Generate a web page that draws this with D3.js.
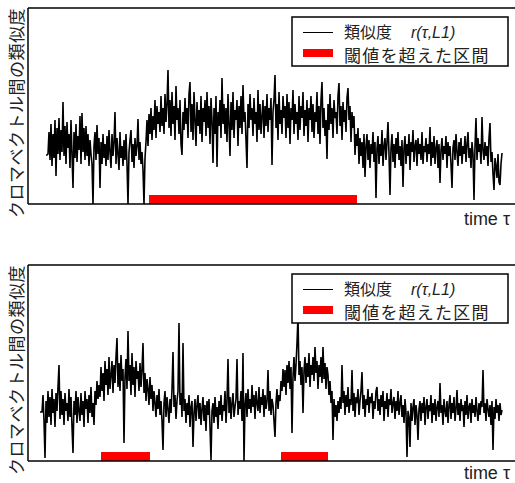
<!DOCTYPE html>
<html>
<head>
<meta charset="utf-8">
<script src="https://cdn.jsdelivr.net/npm/d3@7"></script>
<style>
  html, body { margin: 0; padding: 0; background: #fff; }
  svg { display: block; }
</style>
</head>
<body>
<div id="chart"></div>
<script>
// Similarity r(tau, L1) for each time step (height above the axis)
const topSimilarity = [
  49, 49, 50, 72, 44, 80, 38, 70, 46, 84, 28, 76, 50, 86, 44, 74, 52, 102, 48, 78,
  40, 82, 56, 70, 36, 84, 50, 16, 72, 46, 80, 42, 68, 54, 88, 40, 91, 52, 76, 44,
  78, 48, 70, 38, 64, 50, 40, 0, 58, 72, 44, 79, 50, 66, 16, 62, 40, 70, 46, 60,
  38, 68, 44, 74, 52, 36, 70, 48, 62, 92, 40, 66, 50, 34, 72, 46, 58, 38, 64, 44,
  70, 40, 0, 52, 64, 74, 42, 60, 36, 66, 48, 58, 85, 44, 62, 40, 52, 34, 0, 46,
  62, 84, 58, 90, 70, 96, 64, 88, 74, 104, 66, 98, 80, 92, 72, 108, 78, 96, 70, 110,
  82, 100, 134, 76, 104, 68, 112, 80, 98, 64, 118, 84, 96, 70, 104, 60, 49, 92, 74, 106,
  80, 96, 66, 110, 122, 72, 100, 64, 112, 84, 58, 102, 78, 94, 70, 108, 62, 96, 82, 104,
  68, 112, 76, 98, 60, 106, 84, 41, 96, 70, 108, 37, 92, 78, 104, 66, 126, 80, 100, 70,
  96, 62, 110, 80, 48, 102, 74, 112, 66, 94, 84, 104, 58, 98, 76, 108, 70, 119, 82, 92,
  64, 36, 100, 76, 110, 84, 96, 68, 106, 80, 92, 62, 114, 74, 100, 70, 88, 104, 66, 98,
  78, 110, 72, 96, 84, 106, 39, 92, 104, 129, 76, 100, 64, 112, 80, 94, 70, 108, 86, 98,
  66, 110, 76, 102, 60, 96, 84, 114, 70, 100, 80, 92, 64, 108, 74, 98, 86, 112, 68, 94,
  78, 104, 62, 96, 84, 108, 72, 100, 66, 92, 82, 112, 70, 98, 60, 104, 122, 76, 96, 68,
  84, 45, 100, 74, 110, 80, 96, 66, 104, 86, 92, 70, 108, 121, 78, 98, 64, 102, 82, 94,
  72, 106, 116, 84, 98, 62, 92, 76, 88, 49, 70, 58, 76, 40, 66, 48, 62, 36, 70, 27,
  58, 70, 44, 64, 36, 60, 50, 72, 42, 62, 6, 56, 68, 40, 60, 48, 74, 38, 58, 66,
  44, 62, 82, 50, 9, 56, 70, 42, 60, 36, 66, 50, 72, 44, 58, 38, 64, 17, 56, 68,
  40, 60, 48, 70, 34, 62, 52, 74, 42, 58, 64, 38, 66, 50, 60, 44, 72, 40, 58, 52,
  66, 42, 60, 50, 77, 38, 62, 46, 68, 40, 56, 64, 36, 60, 21, 54, 66, 44, 58, 50,
  68, 36, 62, 48, 58, 40, 16, 56, 64, 44, 70, 52, 38, 62, 48, 66, 40, 58, 50, 68,
  42, 60, 72, 46, 56, 36, 62, 50, 4, 58, 86, 44, 66, 52, 60, 40, 87, 54, 44, 62,
  48, 58, 38, 66, 81, 42, 52, 30, 14, 46, 38, 26, 50, 22, 19, 40, 51
];

const bottomSimilarity = [
  49, 49, 49, 66, 40, 3, 60, 38, 70, 44, 64, 36, 72, 48, 62, 34, 68, 50, 74, 96,
  42, 70, 46, 62, 36, 68, 50, 58, 40, 72, 44, 64, 34, 8, 60, 46, 70, 38, 64, 50,
  40, 68, 46, 60, 34, 70, 52, 62, 38, 66, 48, 74, 44, 58, 36, 70, 56, 80, 62, 76,
  64, 94, 70, 88, 60, 100, 76, 92, 66, 104, 72, 86, 100, 68, 96, 78, 104, 123, 74, 98,
  70, 106, 80, 92, 18, 84, 102, 72, 130, 80, 96, 66, 108, 76, 94, 64, 100, 82, 90, 70,
  98, 74, 92, 118, 68, 88, 60, 82, 72, 56, 84, 62, 76, 50, 70, 58, 44, 66, 52, 72,
  46, 60, 40, 11, 58, 70, 44, 64, 52, 38, 62, 48, 72, 109, 54, 66, 42, 60, 70, 138,
  56, 68, 44, 118, 50, 62, 38, 58, 46, 66, 34, 54, 60, 14, 48, 62, 40, 56, 66, 42,
  58, 36, 52, 64, 40, 56, 30, 60, 46, 62, 34, 1, 50, 58, 38, 64, 44, 54, 32, 60,
  46, 66, 40, 56, 50, 70, 38, 60, 102, 48, 64, 42, 58, 68, 44, 54, 62, 102, 46, 60,
  52, 70, 40, 108, 0, 56, 68, 44, 72, 52, 62, 48, 76, 54, 66, 42, 70, 58, 50, 74,
  48, 64, 56, 72, 44, 66, 52, 60, 91, 50, 70, 46, 62, 56, 40, 24, 58, 72, 52, 66,
  60, 80, 70, 92, 74, 91, 66, 96, 78, 100, 72, 94, 28, 84, 104, 80, 96, 118, 145, 86,
  100, 76, 94, 48, 90, 104, 78, 98, 84, 108, 74, 96, 86, 104, 80, 114, 88, 100, 72, 96,
  84, 104, 78, 114, 82, 98, 72, 94, 86, 66, 80, 58, 70, 21, 62, 44, 56, 40, 60, 48,
  64, 52, 96, 58, 70, 46, 66, 54, 74, 48, 62, 56, 91, 50, 68, 44, 64, 58, 72, 46,
  60, 70, 89, 52, 66, 44, 62, 56, 72, 48, 64, 58, 68, 42, 60, 52, 70, 74, 50, 62,
  46, 66, 54, 70, 40, 60, 52, 68, 44, 62, 56, 72, 48, 58, 64, 42, 60, 50, 70, 46,
  58, 66, 44, 56, 38, 62, 48, 4, 50, 44, 14, 58, 40, 54, 62, 36, 56, 46, 21, 52,
  60, 40, 58, 48, 64, 36, 54, 62, 42, 56, 50, 66, 38, 58, 46, 62, 40, 54, 60, 44,
  78, 48, 56, 36, 62, 50, 44, 60, 38, 56, 66, 42, 58, 48, 64, 40, 52, 71, 46, 58,
  40, 62, 50, 56, 34, 60, 46, 66, 42, 54, 58, 38, 62, 48, 56, 44, 64, 50, 40, 58,
  46, 60, 54, 91, 48, 58, 40, 62, 52, 44, 56, 36, 60, 11, 54, 42, 62, 48, 56, 40,
  58, 46, 51
];

// Time steps where the similarity exceeded the threshold [start, end]
const topIntervals = [[103, 311]];
const bottomIntervals = [[61, 110], [241, 288]];

// Texts
const yLabel = "クロマベクトル間の類似度";
const xLabel = "time τ";
const legendLine = "類似度";
const legendLineMath = "r(τ,L1)";
const legendBar = "閾値を超えた区間";

const W = 515, H = 483;

const svg = d3.select("#chart").append("svg")
    .attr("width", W)
    .attr("height", H);

const panels = [
    { values: topSimilarity, intervals: topIntervals, top: 8, xStart: 46, labelDy: 21 },
    { values: bottomSimilarity, intervals: bottomIntervals, top: 265, xStart: 40, labelDy: 18 }
];

const plotLeft = 28, plotRight = 515, plotHeight = 196, xEnd = 502;
const barHeight = 9;

panels.forEach(p => {
    const g = svg.append("g");
    const bottom = p.top + plotHeight;

    const x = d3.scaleLinear().domain([0, p.values.length - 1]).range([p.xStart, xEnd]);
    const y = d3.scaleLinear().domain([0, plotHeight]).range([bottom, p.top]);

    // Threshold intervals sitting on the bottom axis
    g.selectAll(".interval")
        .data(p.intervals)
        .join("rect")
        .attr("class", "interval")
        .attr("x", d => x(d[0]))
        .attr("width", d => x(d[1]) - x(d[0]))
        .attr("y", y(barHeight))
        .attr("height", y(0) - y(barHeight))
        .attr("fill", "#ff0000");

    // Similarity series
    g.append("path")
        .datum(p.values)
        .attr("fill", "none")
        .attr("stroke", "#000")
        .attr("stroke-width", 1.6)
        .attr("d", d3.line().x((d, i) => x(i)).y(d => y(d)));

    // Frame: left, top and bottom edges
    const frame = [
        [[plotLeft, p.top], [plotLeft, bottom]],
        [[plotLeft, p.top], [plotRight, p.top]],
        [[plotLeft, bottom], [plotRight, bottom]]
    ];
    g.selectAll(".frame")
        .data(frame)
        .join("line")
        .attr("class", "frame")
        .attr("x1", d => d[0][0]).attr("y1", d => d[0][1])
        .attr("x2", d => d[1][0]).attr("y2", d => d[1][1])
        .attr("stroke", "#000")
        .attr("stroke-width", 1.5);

    // Y label, vertical
    g.append("text")
        .attr("transform", `translate(15.5, ${p.top}) rotate(-90)`)
        .attr("text-anchor", "end")
        .attr("dominant-baseline", "central")
        .attr("font-family", "'Noto Sans CJK JP', sans-serif")
        .attr("font-size", 17)
        .attr("letter-spacing", 0.5)
        .attr("fill", "#222")
        .text(yLabel);

    // X label
    g.append("text")
        .attr("x", 510)
        .attr("y", bottom + p.labelDy)
        .attr("text-anchor", "end")
        .attr("font-family", "'Liberation Sans', Arial, sans-serif")
        .attr("font-size", 18)
        .attr("fill", "#222")
        .text(xLabel);

    // Legend
    const lg = g.append("g").attr("transform", `translate(292, ${p.top + 9})`);
    lg.append("rect")
        .attr("width", 216).attr("height", 49)
        .attr("fill", "#fff")
        .attr("stroke", "#000")
        .attr("stroke-width", 1.5);
    lg.append("line")
        .attr("x1", 11).attr("x2", 41)
        .attr("y1", 15.5).attr("y2", 15.5)
        .attr("stroke", "#000")
        .attr("stroke-width", 1);
    lg.append("rect")
        .attr("x", 11).attr("y", 32)
        .attr("width", 30).attr("height", 8)
        .attr("fill", "#ff0000");
    lg.append("text")
        .attr("x", 52).attr("y", 21)
        .attr("font-family", "'Noto Sans CJK JP', sans-serif")
        .attr("font-size", 16)
        .attr("fill", "#222")
        .text(legendLine);
    lg.append("text")
        .attr("x", 119).attr("y", 21)
        .attr("font-family", "'Liberation Sans', Arial, sans-serif")
        .attr("font-style", "italic")
        .attr("font-size", 16)
        .attr("fill", "#222")
        .text(legendLineMath);
    lg.append("text")
        .attr("x", 52).attr("y", 45)
        .attr("font-family", "'Noto Sans CJK JP', sans-serif")
        .attr("font-size", 17)
        .attr("letter-spacing", 1.2)
        .attr("fill", "#222")
        .text(legendBar);
});
</script>
</body>
</html>
